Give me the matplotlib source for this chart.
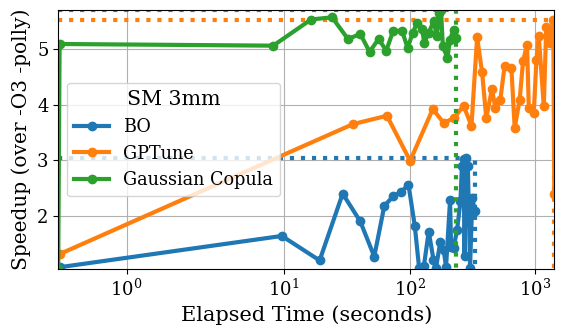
import matplotlib
matplotlib.use("Agg")
import matplotlib.pyplot as plt

plt.rcParams['font.family'] = 'DejaVu Serif'

# Speedup over -O3 -polly vs elapsed tuning time (SM 3mm)
bo_time = [0.05, 9.6, 19.2, 29.3, 40.5, 52.3, 62.9, 73.8, 85.4, 98, 110, 119, 130,
           142, 155, 162, 176, 187, 195, 210, 214, 224, 239, 254, 261, 269, 274,
           281, 291, 303, 316, 331]
bo_speedup = [1.08, 1.64, 1.20, 2.40, 1.90, 1.27, 2.18, 2.35, 2.43, 2.56, 1.82, 1.07,
              1.10, 1.72, 1.21, 1.06, 1.54, 1.39, 1.08, 2.28, 1.45, 1.43, 1.75, 2.26,
              2.89, 3.02, 1.28, 3.05, 2.90, 1.07, 2.32, 2.08]

gptune_time = [0.05, 35.4, 66, 101, 153, 187, 226, 269, 311, 345, 378, 408, 453, 482,
               528, 571, 647, 687, 753, 801, 862, 890, 975, 1024, 1068, 1172, 1226,
               1307, 1395, 1420]
gptune_speedup = [1.32, 3.65, 3.80, 2.99, 3.92, 3.67, 3.76, 3.98, 3.62, 5.21, 4.58,
                  3.76, 4.28, 3.94, 4.09, 4.69, 4.66, 3.58, 4.09, 4.78, 5.08, 3.94,
                  3.85, 4.81, 5.24, 3.97, 5.40, 5.11, 5.53, 2.40]

gc_time = [0.02, 0.04, 8.2, 16.4, 24.1, 32.3, 40.5, 48.0, 56.6, 65.2, 73.8, 87, 96.4,
           106, 114.5, 125.5, 131, 141.8, 155.5, 165, 173, 178, 184, 200, 210, 224, 233]
gc_speedup = [1.04, 5.09, 5.06, 5.53, 5.57, 5.18, 5.27, 4.95, 5.18, 4.97, 5.32, 5.33,
              5.02, 5.29, 5.47, 5.36, 5.11, 5.29, 5.50, 5.23, 5.65, 5.70, 5.05, 4.84,
              5.17, 5.35, 5.20]

methods = ["BO", "GPTune", "Gaussian Copula"]
times = [bo_time, gptune_time, gc_time]
speedups = [bo_speedup, gptune_speedup, gc_speedup]
colors = ['tab:blue', 'tab:orange', 'tab:green']

x_lo = min(t[0] for t in times)
x_hi = max(t[-1] for t in times)
y_lo = min(min(s) for s in speedups)
y_hi = max(max(s) for s in speedups)

fig, ax = plt.subplots(figsize=(5.65, 3.35), dpi=100)
fig.subplots_adjust(left=0.103, right=0.981, top=0.970, bottom=0.196)

for name, t, s, c in zip(methods, times, speedups, colors):
    ax.plot(t, s, '-o', color=c, lw=3, ms=6, label=name)
    # best speedup reached and total time spent
    best = max(s)
    ax.plot([x_lo, t[-1], t[-1]], [best, best, y_lo], ':', color=c, lw=3)

ax.set_xscale('symlog')
ax.set_xlim(x_lo, x_hi)
ax.set_ylim(y_lo, y_hi)
ax.set_yticks([2, 3, 4, 5])
ax.grid(True, color='#b0b0b0', lw=0.8)
ax.tick_params(labelsize=13)
ax.set_xlabel("Elapsed Time (seconds)", fontsize=15)
ax.set_ylabel("Speedup (over -O3 -polly)", fontsize=14.5)
ax.legend(loc='center left', title="SM 3mm", fontsize=12.7, title_fontsize=14.8)

fig.savefig("out.png")
